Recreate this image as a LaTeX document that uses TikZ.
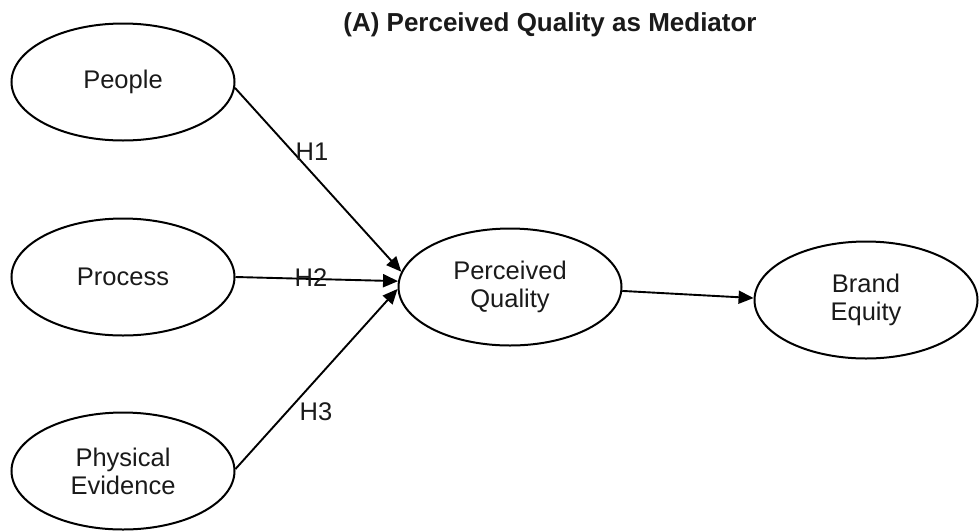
\documentclass[tikz,border=0pt]{standalone}
\usepackage{fontspec}
\setmainfont{Liberation Sans}
\usetikzlibrary{shapes.geometric,arrows.meta}
\definecolor{ink}{HTML}{1A1A1A}
\tikzset{
  construct/.style={ellipse, draw=black, line width=2pt, minimum width=223pt, minimum height=117pt,
    inner sep=0pt, align=center, text=ink, font=\fontsize{25.5}{28}\selectfont},
  path arrow/.style={line width=1.9pt, -{Triangle[length=15pt,width=13pt]}},
  hlabel/.style={text=ink, font=\fontsize{25.5}{28}\selectfont, inner sep=0pt},
}
\begin{document}
\begin{tikzpicture}[x=1pt,y=-1pt]
\useasboundingbox (0,0) rectangle (979,531);
\node[anchor=base, font=\bfseries\fontsize{26}{30}\selectfont, text=ink] (title) at (550,31) {(A) Perceived Quality as Mediator};

\node[construct] (people) at (123,82) {People};
\node[construct] (process) at (123,277) {Process};
\node[construct] (phys) at (123,471) {Physical\\Evidence};
\node[construct] (pq) at (510,287) {Perceived\\Quality};
\node[construct] (be) at (866,300) {Brand\\Equity};

\draw[path arrow] (people.-3.6) -- (pq.172.4);
\draw[path arrow] (process.-0.5) -- (pq.177);
\draw[path arrow] (phys.1.5) -- (pq.181.5);
\draw[path arrow] (pq.-2) -- (be.179);

\node[hlabel] (h1) at (312,152) {H1};
\node[hlabel] (h2) at (311,278) {H2};
\node[hlabel] (h3) at (316,412) {H3};
\end{tikzpicture}
\end{document}
